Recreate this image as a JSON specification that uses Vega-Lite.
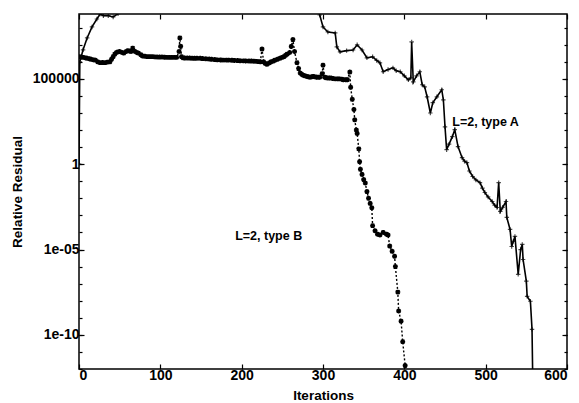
{
  "$schema": "https://vega.github.io/schema/vega-lite/v6.json",
  "width": 488,
  "height": 355,
  "autosize": "none",
  "padding": {"left": 79, "top": 14, "right": 12, "bottom": 34},
  "background": "white",
  "config": {
    "view": {"stroke": "black", "strokeWidth": 1.5},
    "font": "Liberation Sans",
    "axis": {
      "grid": false,
      "domain": false,
      "tickColor": "black",
      "tickWidth": 1.2,
      "labelColor": "black",
      "titleColor": "black",
      "labelFont": "Liberation Sans",
      "titleFont": "Liberation Sans",
      "labelFontWeight": "bold",
      "titleFontWeight": "bold",
      "labelFontSize": 14,
      "titleFontSize": 13.5
    }
  },
  "datasets": {
    "A": [
      {"it": 0, "v": 1}, {"it": 1, "v": 1e6}, {"it": 5, "v": 5.0e6}, {"it": 10, "v": 2.5e7}, {"it": 16, "v": 1.1e8}, {"it": 22, "v": 3.2e8},
      {"it": 26, "v": 6.3e8}, {"it": 30, "v": 5.0e8}, {"it": 36, "v": 5.0e8}, {"it": 42, "v": 4.2e8}, {"it": 48, "v": 6.5e8},
      {"it": 55, "v": 4e9}, {"it": 150, "v": 1e10}, {"it": 250, "v": 1e10}, {"it": 292, "v": 3e9},
      {"it": 296, "v": 5.5e8}, {"it": 300, "v": 1.1e8}, {"it": 306, "v": 5.6e7}, {"it": 315, "v": 4.9e7}, {"it": 317, "v": 7.4e6},
      {"it": 321, "v": 3.8e6}, {"it": 329, "v": 4.5e6}, {"it": 337, "v": 4.9e6}, {"it": 342, "v": 9.8e6}, {"it": 348, "v": 4.9e6},
      {"it": 354, "v": 1.7e6}, {"it": 361, "v": 1.95e6}, {"it": 366, "v": 1.2e6}, {"it": 370, "v": 8.7e5}, {"it": 374, "v": 2.6e5},
      {"it": 380, "v": 3.5e5}, {"it": 386, "v": 4.4e5}, {"it": 390, "v": 3.0e5}, {"it": 395, "v": 2.6e5}, {"it": 400, "v": 1.5e5},
      {"it": 405, "v": 8.7e4}, {"it": 408, "v": 1.15e5}, {"it": 409, "v": 1.45e7}, {"it": 411, "v": 6.6e4}, {"it": 415, "v": 1.5e5},
      {"it": 419, "v": 2.6e5}, {"it": 422, "v": 4.5e4}, {"it": 425, "v": 3.4e4}, {"it": 428, "v": 8.9e3}, {"it": 432, "v": 1.0e3},
      {"it": 435, "v": 4.0e3}, {"it": 440, "v": 8.9e3}, {"it": 446, "v": 2.3e4}, {"it": 448, "v": 5.9e3}, {"it": 450, "v": 155},
      {"it": 452, "v": 7.1}, {"it": 455, "v": 15}, {"it": 459, "v": 41}, {"it": 462, "v": 105}, {"it": 466, "v": 10.7},
      {"it": 471, "v": 2.4}, {"it": 474, "v": 1.5}, {"it": 477, "v": 1.23}, {"it": 480, "v": 0.4}, {"it": 484, "v": 0.19},
      {"it": 488, "v": 0.12}, {"it": 493, "v": 0.083}, {"it": 496, "v": 0.04}, {"it": 499, "v": 0.022}, {"it": 503, "v": 0.012},
      {"it": 508, "v": 0.0065}, {"it": 511, "v": 0.004}, {"it": 514, "v": 0.0029}, {"it": 516, "v": 0.083}, {"it": 518, "v": 0.0017},
      {"it": 521, "v": 0.003}, {"it": 525, "v": 0.0065}, {"it": 526, "v": 7.6e-4}, {"it": 530, "v": 1.5e-4}, {"it": 532, "v": 1.5e-5},
      {"it": 534, "v": 3.0e-5}, {"it": 536, "v": 5.9e-5}, {"it": 540, "v": 3.5e-7}, {"it": 543, "v": 1e-5}, {"it": 545, "v": 2.0e-5},
      {"it": 546, "v": 2.6e-6}, {"it": 550, "v": 1.4e-7}, {"it": 551, "v": 1.8e-8}, {"it": 555, "v": 9.3e-9}, {"it": 557, "v": 2.1e-10},
      {"it": 558, "v": 1e-13}
    ],
    "B": [
      {"it": 0, "v": 2.0e6}, {"it": 3, "v": 1.9e6}, {"it": 5, "v": 1.8e6}, {"it": 8, "v": 1.7e6}, {"it": 10, "v": 1.6e6}, {"it": 13, "v": 1.5e6}, {"it": 15, "v": 1.4e6}, {"it": 18, "v": 1.3e6}, {"it": 20, "v": 1.25e6},
      {"it": 23, "v": 1.0e6}, {"it": 26, "v": 8.9e5}, {"it": 29, "v": 9.0e5}, {"it": 32, "v": 8.9e5}, {"it": 35, "v": 9.5e5}, {"it": 38, "v": 1.0e6}, {"it": 40, "v": 1.4e6}, {"it": 42, "v": 2.0e6}, {"it": 44, "v": 2.8e6}, {"it": 46, "v": 3.5e6},
      {"it": 48, "v": 3.8e6}, {"it": 50, "v": 4.0e6}, {"it": 53, "v": 3.5e6}, {"it": 55, "v": 3.2e6}, {"it": 58, "v": 4.0e6}, {"it": 60, "v": 4.5e6}, {"it": 62, "v": 4.2e6}, {"it": 64, "v": 4.0e6}, {"it": 66, "v": 6.3e6},
      {"it": 69, "v": 4.0e6}, {"it": 71, "v": 3.5e6}, {"it": 73, "v": 3.2e6}, {"it": 76, "v": 2.6e6}, {"it": 78, "v": 2.2e6}, {"it": 81, "v": 2.1e6}, {"it": 84, "v": 2.0e6}, {"it": 87, "v": 2.0e6}, {"it": 90, "v": 2.0e6},
      {"it": 93, "v": 1.95e6}, {"it": 96, "v": 1.9e6}, {"it": 99, "v": 1.9e6}, {"it": 102, "v": 1.9e6}, {"it": 105, "v": 1.85e6}, {"it": 108, "v": 1.8e6}, {"it": 111, "v": 1.8e6}, {"it": 114, "v": 1.8e6}, {"it": 117, "v": 1.8e6}, {"it": 120, "v": 1.8e6},
      {"it": 123, "v": 4.0e6}, {"it": 124, "v": 2.5e7}, {"it": 125, "v": 8.0e6}, {"it": 126, "v": 2.0e6}, {"it": 128, "v": 1.7e6}, {"it": 130, "v": 1.65e6}, {"it": 133, "v": 1.65e6}, {"it": 136, "v": 1.65e6},
      {"it": 139, "v": 1.6e6}, {"it": 142, "v": 1.6e6}, {"it": 145, "v": 1.6e6}, {"it": 149, "v": 1.6e6}, {"it": 152, "v": 1.55e6}, {"it": 156, "v": 1.5e6}, {"it": 160, "v": 1.45e6}, {"it": 163, "v": 1.4e6}, {"it": 167, "v": 1.35e6}, {"it": 170, "v": 1.3e6},
      {"it": 174, "v": 1.28e6}, {"it": 177, "v": 1.25e6}, {"it": 181, "v": 1.25e6}, {"it": 184, "v": 1.25e6}, {"it": 188, "v": 1.22e6}, {"it": 191, "v": 1.2e6}, {"it": 195, "v": 1.18e6}, {"it": 198, "v": 1.15e6}, {"it": 202, "v": 1.13e6}, {"it": 205, "v": 1.12e6},
      {"it": 209, "v": 1.1e6}, {"it": 212, "v": 1.1e6}, {"it": 215, "v": 1.08e6}, {"it": 218, "v": 1.05e6}, {"it": 221, "v": 1.02e6}, {"it": 223, "v": 1.0e6}, {"it": 225, "v": 5.6e6}, {"it": 227, "v": 1.0e6},
      {"it": 229, "v": 8.0e5}, {"it": 231, "v": 7.1e5}, {"it": 234, "v": 8.5e5}, {"it": 236, "v": 1.0e6}, {"it": 239, "v": 1.1e6}, {"it": 241, "v": 1.25e6}, {"it": 244, "v": 1.4e6}, {"it": 247, "v": 1.6e6}, {"it": 250, "v": 1.8e6}, {"it": 252, "v": 2.0e6},
      {"it": 254, "v": 2.4e6}, {"it": 256, "v": 2.8e6}, {"it": 259, "v": 3.5e6}, {"it": 261, "v": 7.9e6}, {"it": 263, "v": 2.0e7}, {"it": 265, "v": 4.0e6},
      {"it": 268, "v": 8.9e5}, {"it": 270, "v": 4.0e5}, {"it": 272, "v": 2.2e5}, {"it": 274, "v": 1.8e5}, {"it": 276, "v": 1.6e5}, {"it": 278, "v": 1.5e5}, {"it": 280, "v": 1.4e5}, {"it": 282, "v": 1.3e5},
      {"it": 284, "v": 1.25e5}, {"it": 286, "v": 1.3e5}, {"it": 288, "v": 1.4e5}, {"it": 290, "v": 1.3e5}, {"it": 292, "v": 1.25e5}, {"it": 294, "v": 1.25e5}, {"it": 296, "v": 1.25e5}, {"it": 299, "v": 2.0e5},
      {"it": 300, "v": 6.3e5}, {"it": 302, "v": 1.25e5}, {"it": 304, "v": 1.15e5}, {"it": 306, "v": 1.12e5}, {"it": 308, "v": 1.12e5}, {"it": 310, "v": 1.12e5}, {"it": 312, "v": 1.05e5}, {"it": 315, "v": 1.0e5},
      {"it": 318, "v": 1.0e5}, {"it": 320, "v": 1.0e5}, {"it": 323, "v": 9.5e4}, {"it": 325, "v": 8.9e4}, {"it": 328, "v": 8.9e4}, {"it": 330, "v": 8.9e4}, {"it": 333, "v": 2.5e5}, {"it": 334, "v": 3.2e4},
      {"it": 336, "v": 6.3e3}, {"it": 338, "v": 1.6e3}, {"it": 339, "v": 400}, {"it": 341, "v": 100}, {"it": 342, "v": 63},
      {"it": 344, "v": 7.9}, {"it": 345, "v": 1.4}, {"it": 346, "v": 0.5}, {"it": 348, "v": 0.25}, {"it": 350, "v": 0.126},
      {"it": 352, "v": 0.079}, {"it": 354, "v": 0.025}, {"it": 356, "v": 0.01}, {"it": 358, "v": 0.005}, {"it": 360, "v": 0.0028},
      {"it": 361, "v": 2.5e-4}, {"it": 364, "v": 1.26e-4}, {"it": 367, "v": 7.9e-5}, {"it": 370, "v": 7.1e-5}, {"it": 374, "v": 1.0e-4},
      {"it": 378, "v": 7.9e-5}, {"it": 380, "v": 7.1e-5}, {"it": 382, "v": 1.6e-5}, {"it": 385, "v": 7.9e-6}, {"it": 388, "v": 4.0e-6},
      {"it": 389, "v": 1.0e-6}, {"it": 392, "v": 3.2e-8}, {"it": 393, "v": 2.5e-9}, {"it": 396, "v": 6.3e-10}, {"it": 398, "v": 4.0e-11},
      {"it": 401, "v": 1.6e-12}, {"it": 403, "v": 1e-13}
    ],
    "notes": [
      {"it": 459, "v": 309, "label": "L=2, type A"},
      {"it": 192, "v": 6.6e-5, "label": "L=2, type B"}
    ]
  },
  "layer": [
    {
      "data": {"name": "A"},
      "mark": {"type": "line", "color": "black", "strokeWidth": 1.6, "clip": true},
      "encoding": {
        "x": {"field": "it", "type": "quantitative", "scale": {"domain": [0, 600], "nice": false, "zero": false},
              "axis": {"orient": "bottom", "values": [0, 100, 200, 300, 400, 500, 600], "tickSize": -5, "labelPadding": 4, "title": "Iterations", "titlePadding": 6}},
        "y": {"field": "v", "type": "quantitative", "scale": {"type": "log", "domain": [1e-12, 6.3e8], "nice": false},
              "axis": {"orient": "left", "values": [1e-10, 1e-5, 1, 1e5], "tickSize": -5, "labelPadding": 5,
                       "labelExpr": "datum.value > 1000 ? '100000' : datum.value > 0.1 ? '1' : datum.value > 1e-7 ? '1e-05' : '1e-10'",
                       "title": "Relative Residual", "titlePadding": 8}}
      }
    },
    {
      "data": {"name": "A"},
      "mark": {"type": "point", "shape": "M-1,0H1M0,-1V1", "size": 20, "stroke": "black", "strokeWidth": 1.2, "filled": false, "clip": true},
      "encoding": {
        "x": {"field": "it", "type": "quantitative", "axis": {"orient": "top", "values": [0, 100, 200, 300, 400, 500, 600], "tickSize": -5, "labels": false, "title": null}},
        "y": {"field": "v", "type": "quantitative", "axis": {"orient": "right", "values": [1e-10, 1e-5, 1, 1e5], "tickSize": -5, "labels": false, "title": null}}
      }
    },
    {
      "data": {"name": "B"},
      "mark": {"type": "line", "color": "black", "strokeWidth": 1.4, "strokeDash": [2, 2], "clip": true},
      "encoding": {
        "x": {"field": "it", "type": "quantitative", "axis": null},
        "y": {"field": "v", "type": "quantitative", "axis": {"orient": "left", "values": [1e-12, 1e-11, 1e-10, 1e-9, 1e-8, 1e-7, 1e-6, 1e-5, 1e-4, 1e-3, 1e-2, 1e-1, 1, 10, 100, 1e3, 1e4, 1e5, 1e6, 1e7, 1e8], "tickSize": -3, "labels": false, "title": null}}
      }
    },
    {
      "data": {"name": "B"},
      "mark": {"type": "point", "shape": "M-1,0H1M0,-1V1M-0.75,-0.75L0.75,0.75M-0.75,0.75L0.75,-0.75", "size": 24, "stroke": "black", "strokeWidth": 1.5, "opacity": 1, "filled": false, "clip": true},
      "encoding": {
        "x": {"field": "it", "type": "quantitative", "axis": null},
        "y": {"field": "v", "type": "quantitative", "axis": {"orient": "right", "values": [1e-12, 1e-11, 1e-10, 1e-9, 1e-8, 1e-7, 1e-6, 1e-5, 1e-4, 1e-3, 1e-2, 1e-1, 1, 10, 100, 1e3, 1e4, 1e5, 1e6, 1e7, 1e8], "tickSize": -3, "labels": false, "title": null}}
      }
    },
    {
      "data": {"name": "notes"},
      "mark": {"type": "text", "align": "left", "baseline": "middle", "font": "Liberation Sans", "fontWeight": "bold", "fontSize": 12.5, "color": "black"},
      "encoding": {
        "x": {"field": "it", "type": "quantitative", "axis": null},
        "y": {"field": "v", "type": "quantitative", "axis": null},
        "text": {"field": "label", "type": "nominal"}
      }
    }
  ],
  "resolve": {"axis": {"x": "independent", "y": "independent"}}
}
